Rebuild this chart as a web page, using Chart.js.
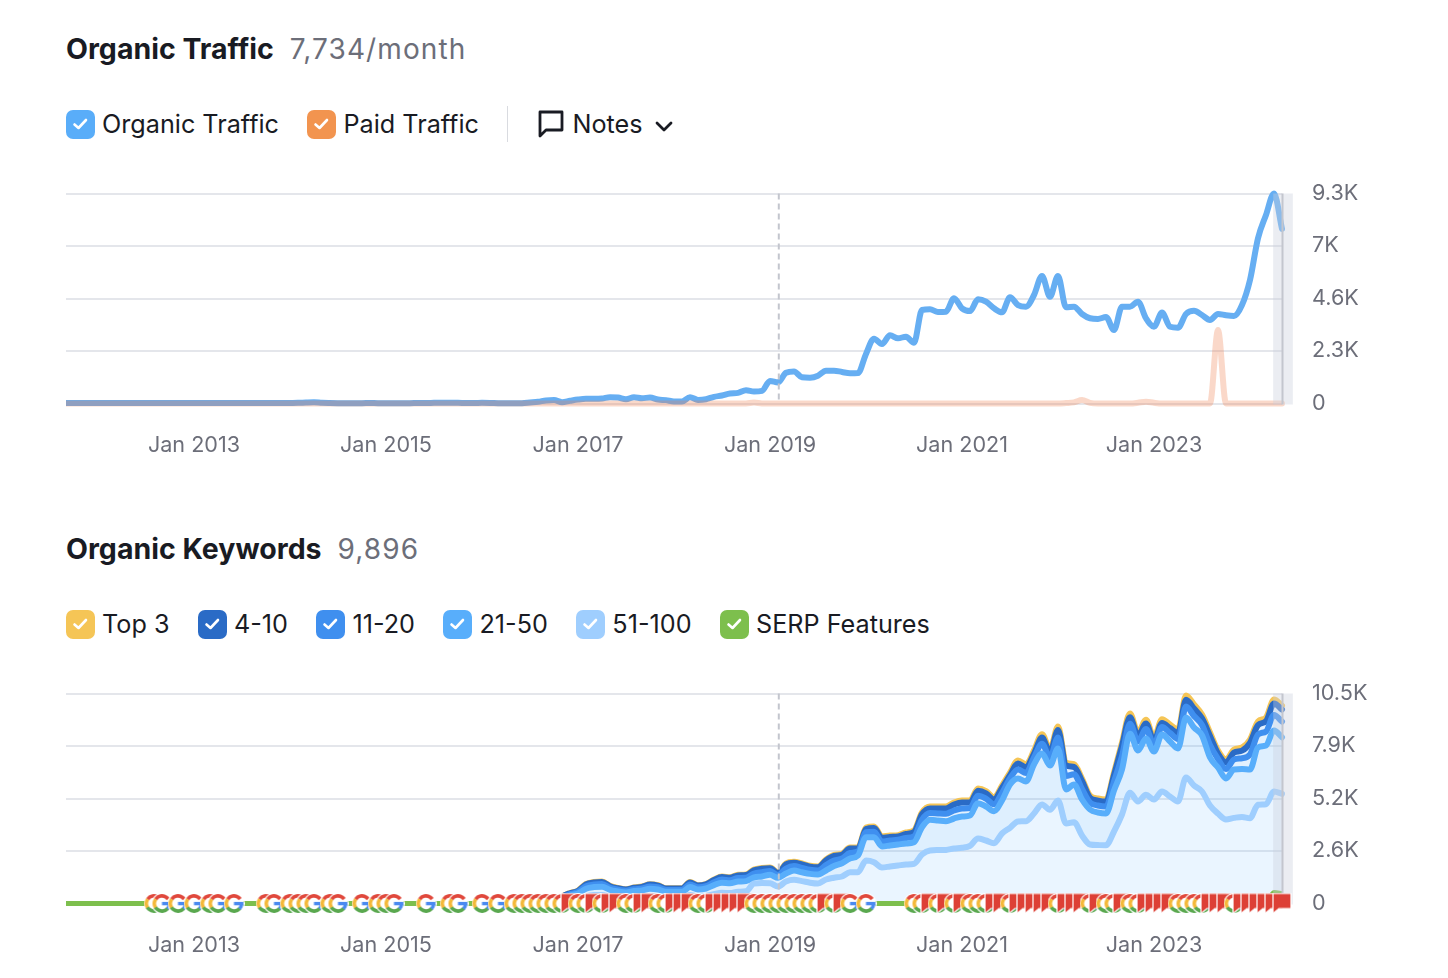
<!DOCTYPE html>
<html>
<head>
<meta charset="utf-8">
<title>Organic Traffic and Keywords</title>
<script src="https://cdn.jsdelivr.net/npm/chart.js@4/dist/chart.umd.min.js"></script>
<style>
  html, body { margin: 0; background: #fff; }
  body { position: relative; width: 1448px; height: 978px; overflow: hidden; font-family: Inter, sans-serif; color: #191b23; }
  .title { position: absolute; left: 66px; font-size: 28.5px; line-height: 36px; font-weight: 700; white-space: nowrap; }
  .title span { font-weight: 400; font-size: 28px; color: #6c6e79; margin-left: 16px; letter-spacing: 1.1px; }
  #title1 { top: 31px; }
  #title2 { top: 531px; }
  .legend { position: absolute; left: 66px; display: flex; align-items: center; height: 30px; font-size: 25.2px; white-space: nowrap; }
  #legend1 { top: 109px; }
  #legend2 { top: 609px; }
  .item { display: flex; align-items: center; margin-right: 28.5px; }
  .box { width: 29px; height: 29px; border-radius: 7px; margin-right: 7px; display: flex; align-items: center; justify-content: center; }
  .divider { width: 1px; height: 36px; background: #d9dbe0; margin: 0 29px 0 0; }
  .notes { display: flex; align-items: center; }
  .notes svg { display: block; }
  canvas { position: absolute; left: 66px; }
  #trafficChart { top: 180px; }
  #keywordChart { top: 680px; }
</style>
</head>
<body>
<div class="title" id="title1">Organic Traffic<span>7,734/month</span></div>
<div class="legend" id="legend1"></div>
<canvas id="trafficChart" width="1334" height="280"></canvas>
<div class="title" id="title2">Organic Keywords<span>9,896</span></div>
<div class="legend" id="legend2"></div>
<canvas id="keywordChart" width="1334" height="280"></canvas>

<script>
// months are counted from Sep 2011 = 0
const tickMonths = [16, 40, 64, 88, 112, 136];
const tickLabels = ['Jan 2013', 'Jan 2015', 'Jan 2017', 'Jan 2019', 'Jan 2021', 'Jan 2023'];
const lastMonth = 152;
const noteMonth = 89.1;

const trafficTicks = [0, 2325, 4650, 6975, 9300];
const trafficTickLabels = ['0', '2.3K', '4.6K', '7K', '9.3K'];
const keywordTicks = [0, 2625, 5250, 7875, 10500];
const keywordTickLabels = ['0', '2.6K', '5.2K', '7.9K', '10.5K'];

const trafficLegend = [['Organic Traffic', '#59adf9'], ['Paid Traffic', '#f2944f']];
const keywordLegend = [['Top 3', '#f5c556'], ['4-10', '#2a6bc6'], ['11-20', '#3f8fef'], ['21-50', '#58aefb'], ['51-100', '#9fcefe'], ['SERP Features', '#7dbf4d']];

const organic = [
  20, 20, 20, 20, 20, 20, 20, 20, 20, 20,
  20, 20, 20, 20, 20, 20, 20, 20, 20, 20,
  20, 20, 20, 20, 20, 20, 20, 20, 25, 30,
  45, 55, 30, 20, 15, 15, 15, 15, 20, 15,
  15, 15, 15, 15, 20, 20, 30, 35, 30, 30,
  25, 25, 30, 25, 15, 10, 10, 15, 45, 75,
  135, 150, 60, 120, 175, 205, 205, 220, 280, 265,
  190, 280, 235, 265, 175, 150, 90, 90, 280, 160,
  190, 295, 355, 445, 470, 590, 530, 560, 1000, 930,
  1360, 1420, 1160, 1145, 1230, 1455, 1455, 1395, 1340, 1350,
  2195, 2870, 2635, 3020, 2885, 2960, 2695, 4140, 4170, 4050,
  4065, 4660, 4215, 4095, 4615, 4510, 4215, 4040, 4700, 4360,
  4290, 4805, 5650, 4730, 5650, 4260, 4290, 3965, 3775, 3745,
  3830, 3255, 4290, 4290, 4510, 3775, 3400, 4025, 3400, 3360,
  3965, 4110, 3920, 3700, 3965, 3905, 3875, 4360, 5470, 7320,
  8350, 9300, 7734
];
const paid = [
  0, 0, 0, 0, 0, 0, 0, 0, 0, 0,
  0, 0, 0, 0, 0, 0, 0, 0, 0, 0,
  0, 0, 0, 0, 0, 0, 0, 0, 0, 0,
  0, 0, 0, 0, 0, 0, 0, 0, 0, 0,
  0, 0, 0, 0, 0, 0, 0, 0, 0, 0,
  0, 0, 0, 0, 0, 0, 0, 0, 0, 0,
  0, 0, 0, 0, 0, 0, 0, 0, 0, 0,
  0, 0, 0, 0, 0, 0, 0, 0, 0, 0,
  0, 0, 0, 0, 0, 0, 40, 0, 0, 0,
  0, 0, 0, 0, 0, 0, 0, 0, 0, 0,
  0, 0, 0, 0, 0, 0, 0, 0, 0, 0,
  0, 0, 0, 0, 0, 0, 0, 0, 0, 0,
  0, 0, 0, 0, 0, 20, 50, 150, 30, 0,
  0, 0, 0, 0, 30, 80, 30, 0, 0, 0,
  0, 0, 0, 0, 3250, 0, 0, 0, 0, 0,
  0, 0, 0
];

// keyword lines are cumulative and start at month 61, all zero before that
const keywordStart = 61;
const top3 = [
  0, 350, 525, 650, 975, 1075, 1100, 885, 775, 715,
  800, 850, 965, 915, 765, 765, 765, 1075, 915, 975,
  1200, 1350, 1315, 1435, 1450, 1700, 1775, 1800, 1550, 2000,
  2085, 2000, 1885, 1850, 2200, 2425, 2485, 2800, 2800, 3800,
  3850, 3350, 3400, 3415, 3550, 3650, 4550, 4850, 4850, 4850,
  5050, 5150, 5150, 5750, 5625, 5300, 5900, 6550, 7150, 6950,
  7650, 8465, 7700, 8850, 7050, 6965, 6250, 5400, 5250, 5200,
  6550, 8050, 9500, 8550, 9185, 8300, 9215, 8950, 8700, 10400,
  9950, 9450, 8550, 7650, 7200, 7700, 7800, 8200, 9100, 9300,
  10200, 9896
];
const pos4to10 = [
  0, 340, 515, 635, 955, 1050, 1075, 865, 760, 700,
  785, 830, 945, 895, 750, 750, 750, 1050, 895, 955,
  1175, 1320, 1290, 1405, 1420, 1665, 1740, 1765, 1520, 1960,
  2040, 1960, 1845, 1815, 2155, 2375, 2435, 2745, 2745, 3725,
  3775, 3285, 3330, 3345, 3480, 3575, 4460, 4755, 4755, 4755,
  4950, 5045, 5045, 5635, 5510, 5195, 5780, 6420, 7005, 6810,
  7495, 8295, 7545, 8675, 6910, 6825, 6125, 5290, 5145, 5095,
  6420, 7890, 9310, 8380, 9000, 8135, 9030, 8770, 8525, 10190,
  9750, 9260, 8380, 7495, 7055, 7545, 7645, 8035, 8920, 9115,
  10000, 9700
];
const pos11to20 = [
  0, 300, 465, 580, 860, 950, 975, 785, 690, 635,
  710, 755, 855, 810, 680, 680, 680, 950, 810, 865,
  1060, 1195, 1165, 1270, 1285, 1500, 1565, 1620, 1420, 1750,
  1870, 1780, 1685, 1650, 1925, 2150, 2250, 2525, 2600, 3560,
  3585, 3100, 3150, 3185, 3275, 3355, 4185, 4520, 4500, 4485,
  4650, 4750, 4775, 5385, 5240, 4960, 5525, 6250, 6700, 6525,
  7300, 7985, 7300, 8300, 6375, 6460, 5725, 5050, 4900, 4850,
  6100, 7375, 8990, 8100, 8720, 7950, 8830, 8525, 8225, 9850,
  9375, 8925, 7925, 7225, 6725, 7200, 7260, 7450, 8450, 8600,
  9425, 9100
];
const pos21to50 = [
  0, 250, 400, 500, 740, 820, 840, 680, 600, 550,
  620, 650, 740, 700, 590, 590, 590, 820, 700, 750,
  920, 1040, 1010, 1100, 1120, 1300, 1350, 1435, 1285, 1500,
  1650, 1560, 1480, 1450, 1650, 1870, 2015, 2250, 2400, 3315,
  3315, 2850, 2900, 2950, 3000, 3060, 3815, 4185, 4150, 4115,
  4250, 4350, 4400, 5015, 4850, 4615, 5150, 5950, 6250, 6100,
  6950, 7500, 6900, 7750, 5700, 5950, 5200, 4700, 4550, 4500,
  5650, 6700, 8485, 7650, 8250, 7600, 8450, 8100, 7750, 9300,
  8800, 8400, 7300, 6800, 6250, 6700, 6720, 6700, 7800, 7900,
  8650, 8315
];
const pos51to100 = [
  0, 60, 120, 200, 350, 420, 430, 340, 300, 280,
  310, 330, 370, 350, 300, 300, 300, 420, 360, 380,
  470, 540, 520, 590, 610, 1000, 1020, 1015, 850, 1100,
  1185, 1120, 1040, 1000, 1200, 1290, 1350, 1565, 1565, 2150,
  2065, 1800, 1850, 1900, 1950, 1985, 2450, 2650, 2670, 2680,
  2750, 2785, 2880, 3250, 3150, 3015, 3500, 3785, 4100, 4115,
  4500, 4950, 4685, 5150, 4000, 4065, 3400, 2950, 2920, 2915,
  3600, 4450, 5535, 5100, 5435, 5200, 5600, 5350, 5100, 6300,
  5900, 5600, 4900, 4500, 4200, 4280, 4330, 4265, 4935, 4965,
  5600, 5485
];
// SERP feature line only lifts off zero at the very end
const serpMonths = [0, 150, 151, 152];
const serpValues = [0, 0, 550, 500];

const googleMonths = [11, 12, 14, 16, 18, 19, 21, 25, 26, 28, 29, 30, 31, 33, 34, 37, 39, 40, 41, 45, 48, 49, 52, 54,
  56, 57, 58, 59, 60, 61, 62, 64, 65, 67, 70, 71, 74, 75, 79, 80, 86, 87, 88, 89, 90, 91, 92, 93, 94, 96, 98, 100,
  106, 107, 109, 111, 113, 114, 115, 118, 124, 128, 130, 131, 133, 134, 139, 140, 141, 142, 146];
const flagMonths = [63, 66, 68, 69, 72, 73, 76, 77, 78, 81, 82, 83, 84, 85, 95, 97, 108, 110, 112, 116, 117, 119, 120,
  121, 122, 123, 125, 126, 127, 129, 132, 135, 136, 137, 138, 143, 144, 145, 147, 148, 149, 150, 151, 152];

// legend html
const checkSvg = '<svg width="17" height="14" viewBox="0 0 17 14"><path d="M2.5 7.5 L6.5 11 L14 3" fill="none" stroke="#fff" stroke-width="2.6" stroke-linecap="round" stroke-linejoin="round"/></svg>';
function fillLegend(id, items) {
  const el = document.getElementById(id);
  items.forEach(it => {
    const item = document.createElement('div');
    item.className = 'item';
    item.innerHTML = '<div class="box" style="background:' + it[1] + '">' + checkSvg + '</div><span>' + it[0] + '</span>';
    el.appendChild(item);
  });
}
fillLegend('legend1', trafficLegend);
fillLegend('legend2', keywordLegend);
document.getElementById('legend1').insertAdjacentHTML('beforeend',
  '<div class="divider"></div><div class="notes">' +
  '<svg width="28" height="30" viewBox="0 0 28 30" style="margin-right:7px"><path d="M3 3 H25 V21 H9 L3 27 Z" fill="none" stroke="#191b23" stroke-width="2.8" stroke-linejoin="round"/></svg>' +
  '<span>Notes</span>' +
  '<svg width="20" height="14" viewBox="0 0 20 14" style="margin-left:11px;margin-top:6px"><path d="M3 3 L10 10 L17 3" fill="none" stroke="#191b23" stroke-width="2.8" stroke-linecap="round" stroke-linejoin="round"/></svg>' +
  '</div>');

// marker icons for the zero line
function makeGoogleIcon() {
  const c = document.createElement('canvas');
  c.width = 21; c.height = 21;
  const g = c.getContext('2d');
  const mid = 10.5, r = 7.6;
  g.fillStyle = '#fff';
  g.beginPath(); g.arc(mid, mid, 10.5, 0, Math.PI * 2); g.fill();
  g.lineWidth = 3.6;
  const arcs = [['#e0483c', -2.55, -0.62], ['#f4b93a', 2.55, 3.75], ['#5aa84f', 0.72, 2.6], ['#4a8af0', 0, 0.75]];
  arcs.forEach(a => {
    g.strokeStyle = a[0];
    g.beginPath(); g.arc(mid, mid, r, a[1], a[2]); g.stroke();
  });
  g.fillStyle = '#4a8af0';
  g.fillRect(mid, mid - 1.6, r + 1.8, 3.4);
  return c;
}
function makeFlagIcon() {
  const c = document.createElement('canvas');
  c.width = 20; c.height = 22;
  const g = c.getContext('2d');
  g.beginPath();
  g.moveTo(1, 1); g.lineTo(19, 1); g.lineTo(19, 16); g.lineTo(7, 16); g.lineTo(1, 21);
  g.closePath();
  g.fillStyle = '#dd4036';
  g.strokeStyle = '#fff';
  g.lineWidth = 1.2;
  g.fill();
  g.stroke();
  return c;
}
const googleIcon = makeGoogleIcon();
const flagIcon = makeFlagIcon();

const marks = googleMonths.map(m => ({ x: m, y: 0, icon: googleIcon }))
  .concat(flagMonths.map(m => ({ x: m, y: 0, icon: flagIcon })))
  .sort((a, b) => a.x - b.x);

// grey band at the right edge and dashed note line, painted after the given dataset
const overlayPlugin = {
  id: 'overlay',
  afterDatasetDraw(chart, args, opts) {
    if (args.index !== opts.afterIndex) return;
    const ctx = chart.ctx;
    const area = chart.chartArea;
    const xs = chart.scales.x;
    ctx.save();
    ctx.fillStyle = 'rgba(203, 208, 222, 0.38)';
    ctx.fillRect(xs.getPixelForValue(150.9), area.top, xs.getPixelForValue(153.35) - xs.getPixelForValue(150.9), area.bottom - area.top + 1);
    ctx.fillStyle = '#c3c6ce';
    ctx.fillRect(xs.getPixelForValue(lastMonth) - 0.5, area.top, 2, area.bottom - area.top + 1);
    ctx.strokeStyle = '#c3c6ce';
    ctx.lineWidth = 2;
    ctx.setLineDash([6, 4]);
    ctx.beginPath();
    ctx.moveTo(xs.getPixelForValue(noteMonth), area.top);
    ctx.lineTo(xs.getPixelForValue(noteMonth), area.bottom);
    ctx.stroke();
    ctx.restore();
  }
};

function baseOptions(yMax, yTicks, yLabels, afterIndex) {
  return {
    responsive: false,
    animation: false,
    parsing: false,
    normalized: true,
    events: [],
    layout: { autoPadding: false, padding: { top: 13.5, left: 0, right: 0, bottom: 0 } },
    plugins: { legend: { display: false }, tooltip: { enabled: false }, overlay: { afterIndex: afterIndex } },
    elements: { point: { radius: 0 } },
    scales: {
      x: {
        type: 'linear',
        min: 0,
        max: lastMonth,
        grid: { display: false },
        border: { display: false },
        afterBuildTicks: s => { s.ticks = tickMonths.map(v => ({ value: v })); },
        afterFit: s => { s.height = 56.5; s.paddingLeft = 0; s.paddingRight = 0; },
        ticks: {
          autoSkip: false,
          maxRotation: 0,
          padding: 21,
          color: '#6c6e79',
          font: { family: 'Inter', size: 21.6 },
          callback: v => tickLabels[tickMonths.indexOf(v)]
        }
      },
      y: {
        position: 'right',
        min: 0,
        max: yMax,
        grid: { color: '#e4e6eb', lineWidth: 2, drawTicks: false },
        border: { display: false },
        afterBuildTicks: s => { s.ticks = yTicks.map(v => ({ value: v })); },
        afterFit: s => { s.width = 118; s.paddingTop = 0; s.paddingBottom = 0; },
        ticks: {
          autoSkip: false,
          padding: 30,
          labelOffset: -0.5,
          color: '#6c6e79',
          font: { family: 'Inter', size: 21.6 },
          callback: v => yLabels[yTicks.indexOf(v)]
        }
      }
    }
  };
}

function linePoints(values, start) {
  return values.map((v, i) => ({ x: start + i, y: v }));
}

function lineSet(label, values, start, color, order, extra) {
  return Object.assign({
    label: label,
    data: linePoints(values, start),
    borderColor: color,
    borderWidth: 6,
    backgroundColor: 'transparent',
    cubicInterpolationMode: 'monotone',
    borderCapStyle: 'round',
    borderJoinStyle: 'round',
    fill: false,
    clip: false,
    order: order
  }, extra || {});
}

new Chart(document.getElementById('trafficChart'), {
  type: 'line',
  data: {
    datasets: [
      lineSet('Organic Traffic', organic, 0, '#66aef2', 2),
      lineSet('Paid Traffic', paid, 0, 'rgba(240, 125, 75, 0.3)', 1)
    ]
  },
  options: baseOptions(9300, trafficTicks, trafficTickLabels, 1),
  plugins: [overlayPlugin]
});

new Chart(document.getElementById('keywordChart'), {
  type: 'line',
  data: {
    datasets: [
      lineSet('Top 3', top3, keywordStart, '#f5c556', 7, { fill: { target: 1 }, backgroundColor: 'rgba(88, 174, 251, 0.17)' }),
      lineSet('4-10', pos4to10, keywordStart, '#2a6bc6', 6, { fill: { target: 2 }, backgroundColor: 'rgba(88, 174, 251, 0.17)' }),
      lineSet('11-20', pos11to20, keywordStart, '#3f8fef', 5, { fill: { target: 3 }, backgroundColor: 'rgba(88, 174, 251, 0.17)' }),
      lineSet('21-50', pos21to50, keywordStart, '#58aefb', 4, { fill: { target: 4 }, backgroundColor: 'rgba(88, 174, 251, 0.2)' }),
      lineSet('51-100', pos51to100, keywordStart, '#9fcefe', 3, { fill: 'origin', backgroundColor: 'rgba(128, 194, 255, 0.17)' }),
      { label: 'SERP Features', data: serpMonths.map((m, i) => ({ x: m, y: serpValues[i] })), borderColor: '#7dbf4d', borderWidth: 5, backgroundColor: '#7dbf4d', fill: 'origin', clip: false, order: 2, cubicInterpolationMode: 'monotone' },
      {
        label: 'SERP markers',
        data: marks.map(m => ({ x: m.x, y: m.y })),
        showLine: false,
        clip: false,
        order: 1,
        pointRadius: 10,
        pointStyle: ctx => marks[ctx.dataIndex].icon
      }
    ]
  },
  options: baseOptions(10500, keywordTicks, keywordTickLabels, 5),
  plugins: [overlayPlugin]
});
</script>
</body>
</html>
